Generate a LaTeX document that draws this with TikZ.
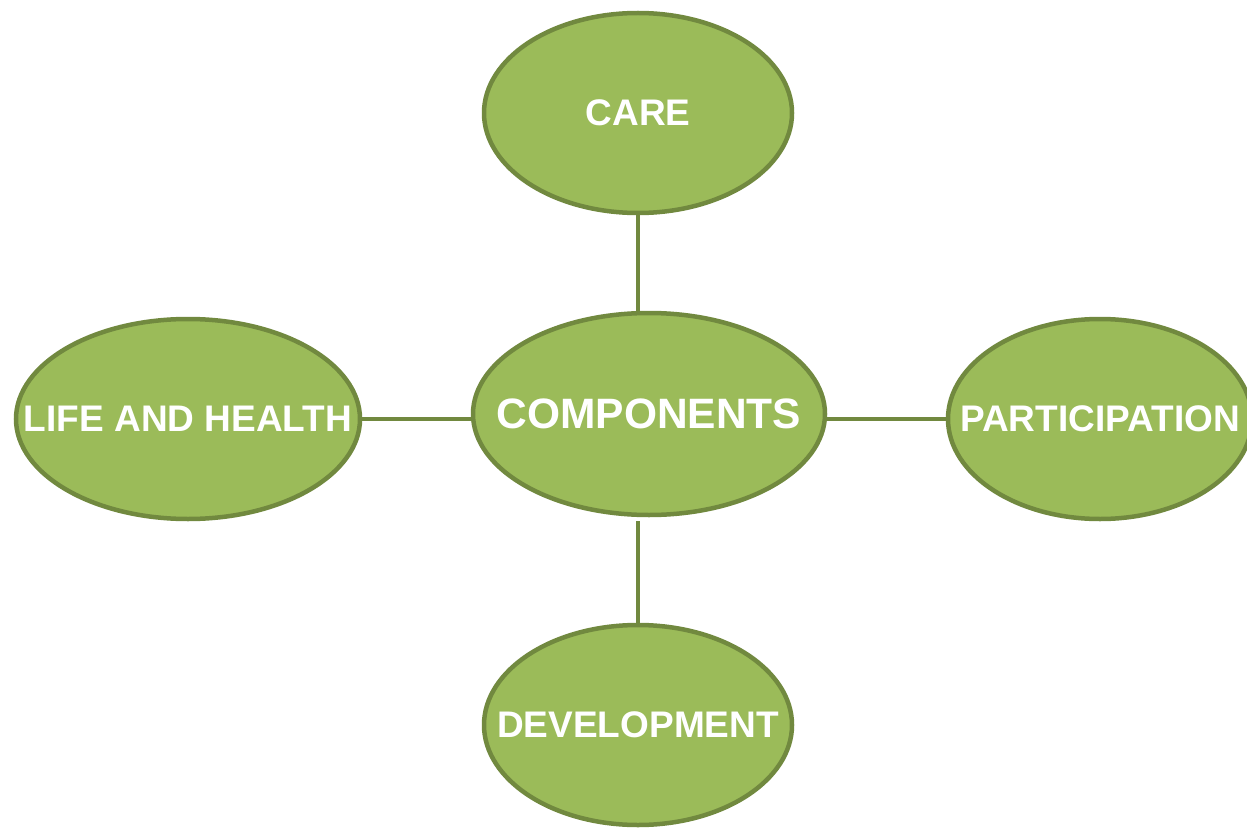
\documentclass[tikz,border=0pt]{standalone}
\usepackage{fontspec}
\setmainfont{Liberation Sans}
\usetikzlibrary{shapes.geometric}
\definecolor{ellfill}{HTML}{9BBB59}
\definecolor{elldraw}{HTML}{71893F}
\begin{document}
\begin{tikzpicture}[x=1pt,y=-1pt,
  bubble/.style={ellipse, draw=elldraw, fill=ellfill, line width=4.5pt, inner sep=0pt,
    minimum width=308pt, minimum height=200pt},
  word/.style={text=white, font=\bfseries\fontsize{37}{37}\selectfont, inner sep=0pt},
  link/.style={draw=elldraw, line width=4.5pt}]
\useasboundingbox (0,0) rectangle (1247,829);
\clip (0,0) rectangle (1247,829);
\node[bubble] (care) at (638,113) {};
\node[bubble, minimum width=352pt, minimum height=202pt] (comp) at (649,414) {};
\node[bubble, minimum width=344pt] (life) at (188,419) {};
\node[bubble, minimum width=304pt] (part) at (1100,419) {};
\node[bubble] (dev) at (638,725) {};
\node[word] (caret) at (care.center) {CARE};
\node[word, font=\bfseries\fontsize{42.5}{42.5}\selectfont] (compt) at (comp.center) {COMPONENTS};
\node[word] (lifet) at (life.center) {LIFE AND HEALTH};
\node[word] (partt) at (part.center) {PARTICIPATION};
\node[word] (devt) at (dev.center) {DEVELOPMENT};
\draw[link] (care.south) -- (care.south |- comp.north);
\draw[link, shorten <=4pt] (dev.north |- comp.south) -- (dev.north);
\draw[link] (life.east) -- (life.east -| comp.west);
\draw[link] (comp.east |- part.west) -- (part.west);
\end{tikzpicture}
\end{document}
